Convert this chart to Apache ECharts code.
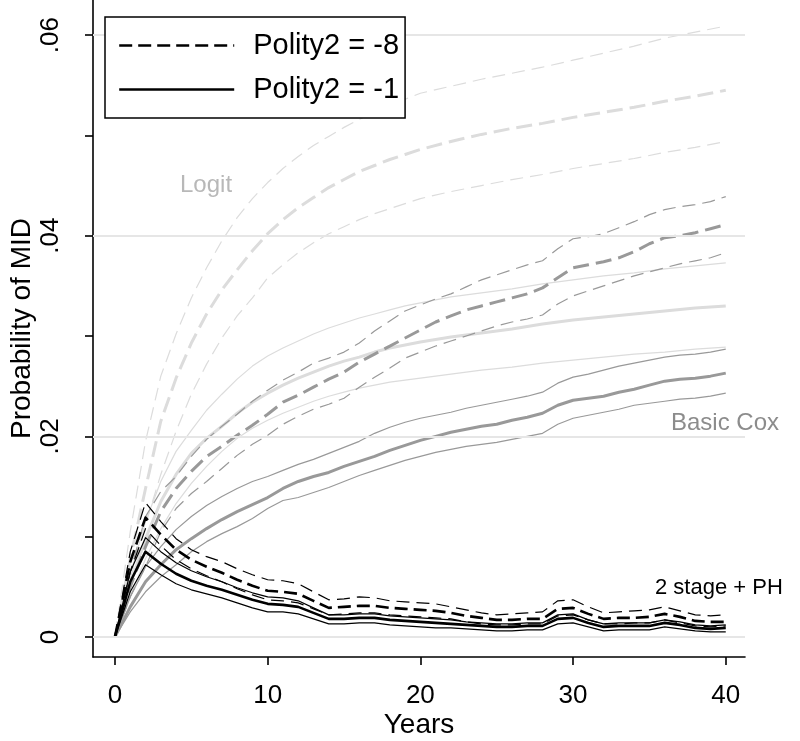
<!DOCTYPE html>
<html>
<head>
<meta charset="utf-8">
<script src="https://cdn.jsdelivr.net/npm/echarts@6/dist/echarts.min.js"></script>
<style>html,body{margin:0;padding:0;background:#fff}#c{width:800px;height:741px}</style>
</head>
<body>
<div id="c"></div>
<script>
const years = [0,1,2,3,4,5,6,7,8,9,10,11,12,13,14,15,16,17,18,19,20,21,22,23,24,25,26,27,28,29,30,31,32,33,34,35,36,37,38,39,40];
const logitYears = [0,1,2,3,4,5,6,7,8,9,10,11,12,13,14,15,16,17,18,19,20,22,24,26,28,30,32,34,36,38,40];

const xTicks = [0,10,20,30,40];
const yTicks = [0,0.01,0.02,0.03,0.04,0.05,0.06];
const yLabels = [0,0.02,0.04,0.06];
const gridValues = [0,0.02,0.04,0.06];

// Logit, Polity2 = -8 (dashed)
const logitDashUp  = [0,0.0105,0.0195,0.026,0.0302,0.0338,0.0368,0.0395,0.0418,0.0437,0.0453,0.0467,0.0479,0.049,0.0499,0.0508,0.0516,0.0523,0.053,0.0536,0.0542,0.0549,0.0556,0.0562,0.0568,0.0575,0.0582,0.0589,0.0597,0.0603,0.0609];
const logitDashMid = [0,0.0078,0.0148,0.0215,0.0258,0.0293,0.0322,0.0346,0.0366,0.0385,0.0402,0.0416,0.0428,0.0438,0.0448,0.0456,0.0464,0.047,0.0476,0.0481,0.0486,0.0494,0.0501,0.0507,0.0512,0.0518,0.0523,0.0528,0.0534,0.0539,0.0545];
const logitDashLow = [0,0.0058,0.0112,0.0162,0.0205,0.0242,0.0272,0.0298,0.032,0.0338,0.0358,0.0371,0.0383,0.0393,0.0402,0.0409,0.0416,0.0422,0.0427,0.0432,0.0437,0.0444,0.045,0.0456,0.0461,0.0467,0.0472,0.0477,0.0483,0.0488,0.0494];
// Logit, Polity2 = -1 (solid)
const logitSolUp  = [0,0.0062,0.0115,0.0155,0.0185,0.0206,0.0226,0.0242,0.0257,0.027,0.028,0.0288,0.0295,0.0302,0.0308,0.0313,0.0318,0.0322,0.0326,0.033,0.0333,0.0339,0.0343,0.0347,0.0352,0.0356,0.036,0.0363,0.0367,0.037,0.0373];
const logitSolMid = [0,0.0052,0.0098,0.0135,0.0162,0.0183,0.0198,0.021,0.0223,0.0234,0.0243,0.0251,0.0258,0.0264,0.027,0.0275,0.0279,0.0284,0.0288,0.0291,0.0294,0.0299,0.0303,0.0307,0.0312,0.0316,0.0319,0.0322,0.0325,0.0328,0.033];
const logitSolLow = [0,0.004,0.0078,0.0108,0.0133,0.0153,0.017,0.0185,0.0198,0.0208,0.0216,0.0223,0.0229,0.0235,0.024,0.0244,0.0248,0.0251,0.0254,0.0256,0.0258,0.0262,0.0266,0.0269,0.0273,0.0276,0.0279,0.0282,0.0284,0.0287,0.0289];

// Basic Cox, Polity2 = -8 (dashed)
const coxDashUp  = [0,0.0065,0.012,0.0145,0.016,0.018,0.0197,0.021,0.0222,0.0235,0.0246,0.0256,0.0264,0.0273,0.0278,0.0284,0.0293,0.0305,0.0315,0.0325,0.0331,0.0337,0.0342,0.0349,0.0356,0.0361,0.0366,0.0371,0.0375,0.0387,0.0397,0.0399,0.0402,0.0408,0.0414,0.0421,0.0426,0.0429,0.0431,0.0434,0.0439];
const coxDashMid = [0,0.005,0.009,0.0125,0.0148,0.0165,0.018,0.019,0.0201,0.0211,0.0222,0.0234,0.0241,0.0249,0.0257,0.0264,0.0274,0.0282,0.029,0.0298,0.0306,0.0314,0.032,0.0326,0.033,0.0334,0.0338,0.0342,0.0348,0.0358,0.0368,0.0371,0.0374,0.0378,0.0384,0.0392,0.0398,0.04,0.0403,0.0407,0.0411];
const coxDashLow = [0,0.004,0.007,0.0105,0.0128,0.0143,0.0155,0.0168,0.0181,0.0192,0.0201,0.0212,0.022,0.0227,0.0232,0.0238,0.0249,0.0259,0.0268,0.0278,0.0284,0.029,0.0295,0.03,0.0305,0.031,0.0314,0.0317,0.0321,0.0332,0.034,0.0345,0.035,0.0355,0.036,0.0364,0.0368,0.0372,0.0375,0.0378,0.0383];
// Basic Cox, Polity2 = -1 (solid)
const coxSolUp  = [0,0.004,0.007,0.009,0.0107,0.012,0.0131,0.014,0.0148,0.0155,0.016,0.0166,0.0172,0.0177,0.0183,0.0189,0.0195,0.0203,0.0209,0.0214,0.0218,0.0221,0.0224,0.0228,0.0231,0.0234,0.0237,0.024,0.0244,0.0253,0.0259,0.0262,0.0266,0.027,0.0273,0.0276,0.0279,0.0281,0.0282,0.0284,0.0287];
const coxSolMid = [0,0.003,0.0055,0.0072,0.0087,0.0098,0.0108,0.0117,0.0125,0.0132,0.0139,0.0148,0.0155,0.016,0.0164,0.017,0.0175,0.018,0.0186,0.0191,0.0196,0.02,0.0204,0.0207,0.021,0.0212,0.0216,0.0219,0.0223,0.0231,0.0236,0.0238,0.024,0.0244,0.0247,0.0251,0.0255,0.0257,0.0258,0.026,0.0263];
const coxSolLow = [0,0.0025,0.0045,0.006,0.0072,0.0085,0.0095,0.0103,0.011,0.0118,0.0128,0.0136,0.0139,0.0144,0.0149,0.0155,0.0161,0.0166,0.0171,0.0176,0.018,0.0184,0.0187,0.019,0.0192,0.0194,0.0197,0.02,0.0203,0.0212,0.0218,0.0221,0.0224,0.0227,0.0231,0.0233,0.0235,0.0237,0.0238,0.024,0.0243];

// 2 stage + PH, Polity2 = -8 (dashed)
const twoDashUp  = [0,0.0085,0.0134,0.0115,0.0098,0.0087,0.008,0.0075,0.0068,0.0062,0.0057,0.0056,0.0053,0.0045,0.0037,0.0038,0.004,0.0039,0.0036,0.0035,0.0034,0.0033,0.003,0.0027,0.0024,0.0022,0.0023,0.0024,0.0025,0.0036,0.0037,0.003,0.0024,0.0025,0.0026,0.0027,0.003,0.0026,0.0022,0.0021,0.0022];
const twoDashMid = [0,0.0075,0.0119,0.0102,0.0087,0.0077,0.007,0.0064,0.0057,0.0051,0.0046,0.0045,0.0043,0.0036,0.0029,0.003,0.0031,0.0031,0.0029,0.0028,0.0027,0.0026,0.0024,0.0021,0.0019,0.0017,0.0017,0.0018,0.0018,0.0028,0.0029,0.0023,0.0018,0.0019,0.0019,0.002,0.0023,0.002,0.0016,0.0015,0.0015];
const twoDashLow = [0,0.0065,0.0108,0.0091,0.0077,0.0068,0.0061,0.0055,0.0048,0.0042,0.0037,0.0036,0.0034,0.0028,0.0022,0.0023,0.0024,0.0024,0.0022,0.0021,0.002,0.0019,0.0018,0.0015,0.0013,0.0012,0.0012,0.0013,0.0013,0.0021,0.0022,0.0017,0.0013,0.0013,0.0014,0.0014,0.0017,0.0014,0.0011,0.001,0.0011];
// 2 stage + PH, Polity2 = -1 (solid)
const twoSolUp  = [0,0.0065,0.0099,0.0085,0.0074,0.0066,0.006,0.0055,0.0049,0.0044,0.004,0.0039,0.0036,0.0029,0.0022,0.0022,0.0023,0.0023,0.0021,0.002,0.0019,0.0018,0.0017,0.0015,0.0014,0.0013,0.0013,0.0014,0.0014,0.0022,0.0023,0.0017,0.0013,0.0014,0.0014,0.0014,0.0017,0.0015,0.0012,0.0011,0.0012];
const twoSolMid = [0,0.0055,0.0085,0.0073,0.0063,0.0056,0.0051,0.0047,0.0042,0.0037,0.0033,0.0032,0.003,0.0024,0.0018,0.0018,0.0019,0.0019,0.0017,0.0016,0.0015,0.0014,0.0013,0.0012,0.0011,0.001,0.001,0.0011,0.0011,0.0018,0.0019,0.0014,0.001,0.0011,0.0011,0.0011,0.0014,0.0012,0.0009,0.0008,0.0009];
const twoSolLow = [0,0.0045,0.0072,0.0062,0.0053,0.0047,0.0043,0.0039,0.0034,0.0029,0.0025,0.0025,0.0023,0.0018,0.0013,0.0013,0.0014,0.0014,0.0012,0.0011,0.001,0.0009,0.0009,0.0008,0.0007,0.0006,0.0006,0.0007,0.0007,0.0013,0.0014,0.001,0.0006,0.0007,0.0007,0.0007,0.001,0.0008,0.0006,0.0005,0.0005];

const FONT = '"Liberation Sans", Arial, sans-serif';
const zip = (xs, ys) => xs.map((x, i) => [x, ys[i]]);

function line(name, xs, ys, color, width, dashed, z) {
  return {
    name: name, type: 'line', data: zip(xs, ys), symbol: 'none', showSymbol: false, silent: true,
    z: z, animation: false,
    lineStyle: { color: color, width: width, type: dashed ? dashed : 'solid', cap: 'butt', join: 'round' },
    itemStyle: { color: color }
  };
}

const LG = '#dcdcdc', CX = '#999999', BK = '#000000';
const thickDash = [16, 7], thinDash = [13, 7];

const series = [
  { name: 'grid', type: 'line', data: [], z: 1, silent: true,
    markLine: { silent: true, symbol: 'none', label: { show: false }, animation: false,
      lineStyle: { color: '#e6e6e6', width: 2, type: 'solid' },
      data: gridValues.map(v => ({ yAxis: v })) } },
  line('lg_du', logitYears, logitDashUp, LG, 1.2, thinDash, 2),
  line('lg_dm', logitYears, logitDashMid, LG, 3, thickDash, 2),
  line('lg_dl', logitYears, logitDashLow, LG, 1.2, thinDash, 2),
  line('lg_su', logitYears, logitSolUp, LG, 1.2, null, 2),
  line('lg_sm', logitYears, logitSolMid, LG, 3, null, 2),
  line('lg_sl', logitYears, logitSolLow, LG, 1.2, null, 2),
  line('cx_du', years, coxDashUp, CX, 1.2, thinDash, 3),
  line('cx_dm', years, coxDashMid, CX, 3, thickDash, 3),
  line('cx_dl', years, coxDashLow, CX, 1.2, thinDash, 3),
  line('cx_su', years, coxSolUp, CX, 1.2, null, 3),
  line('cx_sm', years, coxSolMid, CX, 3, null, 3),
  line('cx_sl', years, coxSolLow, CX, 1.2, null, 3),
  line('tw_du', years, twoDashUp, BK, 1.2, thinDash, 4),
  line('Polity2 = -8', years, twoDashMid, BK, 2.6, [13, 6], 4),
  line('tw_dl', years, twoDashLow, BK, 1.2, thinDash, 4),
  line('tw_su', years, twoSolUp, BK, 1.2, null, 4),
  line('Polity2 = -1', years, twoSolMid, BK, 2.6, null, 4),
  line('tw_sl', years, twoSolLow, BK, 1.2, null, 4)
];

const chart = echarts.init(document.getElementById('c'), null, { renderer: 'canvas' });
chart.setOption({
  animation: false,
  backgroundColor: '#ffffff',
  textStyle: { fontFamily: FONT },
  grid: { left: 93, right: 55, top: 0, bottom: 84, containLabel: false, outerBoundsMode: 'none' },
  legend: {
    data: ['Polity2 = -8', 'Polity2 = -1'],
    orient: 'vertical', left: 105, top: 17,
    padding: [14, 6, 14, 13],
    itemWidth: 115, itemHeight: 28, itemGap: 15,
    backgroundColor: '#ffffff', borderColor: '#000', borderWidth: 1.5, borderRadius: 0,
    selectedMode: false, z: 10,
    itemStyle: { color: 'rgba(0,0,0,0)', borderColor: 'rgba(0,0,0,0)', borderWidth: 0, opacity: 0 },
    lineStyle: { width: 2.4 },
    textStyle: { fontSize: 29, color: '#000', fontFamily: FONT, padding: [0, 0, 0, 14] }
  },
  xAxis: {
    type: 'value', min: -1.44, max: 41.26,
    name: 'Years', nameLocation: 'middle', nameGap: 54, nameMoveOverlap: false,
    nameTextStyle: { fontSize: 28, color: '#000', fontFamily: FONT },
    axisLine: { show: true, onZero: false, lineStyle: { color: '#000', width: 1.6 } },
    axisTick: { show: true, length: 8, lineStyle: { color: '#000', width: 1.6 }, customValues: xTicks },
    axisLabel: { show: true, fontSize: 26, color: '#000', margin: 26, fontFamily: FONT, customValues: xTicks },
    splitLine: { show: false }
  },
  yAxis: {
    type: 'value', min: -0.002, max: 0.0635,
    name: 'Probability of MID', nameLocation: 'middle', nameGap: 57, nameRotate: 90, nameMoveOverlap: false,
    nameTextStyle: { fontSize: 28, color: '#000', fontFamily: FONT },
    axisLine: { show: true, onZero: false, lineStyle: { color: '#000', width: 1.6 } },
    axisTick: { show: true, length: 8, lineStyle: { color: '#000', width: 1.6 }, customValues: yTicks },
    axisLabel: { show: true, rotate: 90, fontSize: 26, color: '#000', margin: 29, fontFamily: FONT,
      customValues: yLabels,
      formatter: v => (Math.abs(v) < 1e-9 ? '0' : ('.' + String(Math.round(v * 100)).padStart(2, '0'))) },
    splitLine: { show: false }
  },
  graphic: [
    { type: 'text', left: 180, top: 173, silent: true, z: 20,
      style: { text: 'Logit', fontSize: 24, fill: '#b8b8b8', fontFamily: FONT } },
    { type: 'text', left: 671, top: 411, silent: true, z: 20,
      style: { text: 'Basic Cox', fontSize: 24, fill: '#8c8c8c', fontFamily: FONT } },
    { type: 'text', left: 655, top: 577, silent: true, z: 20,
      style: { text: '2 stage + PH', fontSize: 22, fill: '#000', fontFamily: FONT } }
  ],
  series: series
});
</script>
</body>
</html>
